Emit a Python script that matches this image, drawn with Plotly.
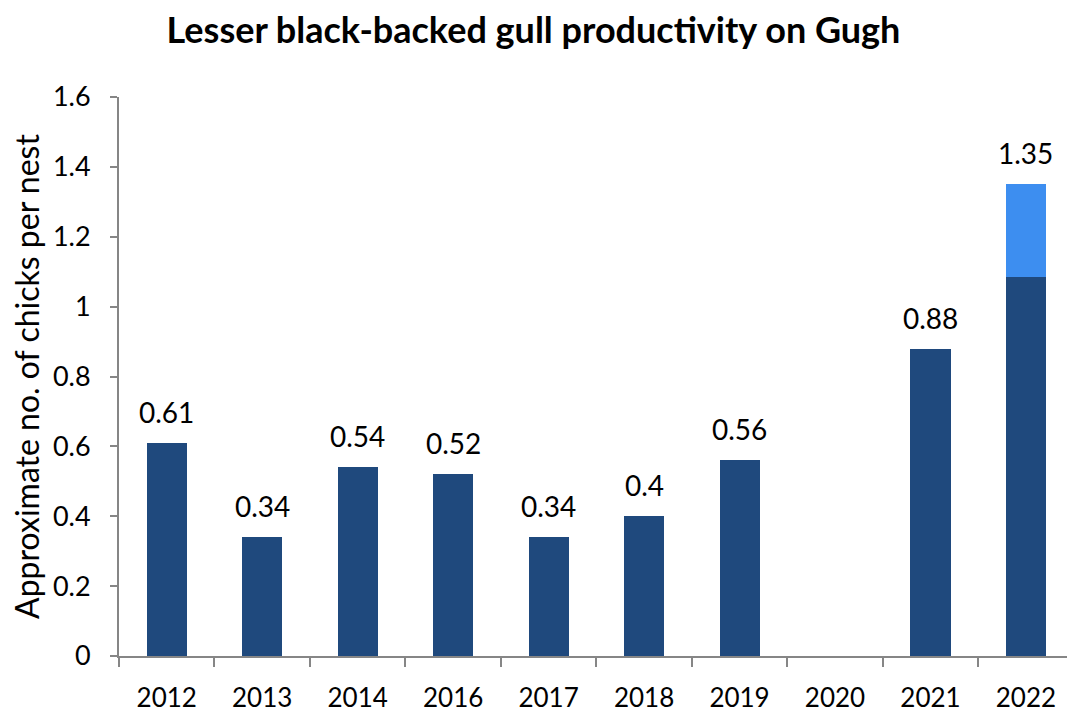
import plotly.graph_objects as go

years = ["2012", "2013", "2014", "2016", "2017", "2018", "2019", "2020", "2021", "2022"]
base_values = [0.61, 0.34, 0.54, 0.52, 0.34, 0.40, 0.56, None, 0.88, 1.085]
extra_values = [None, None, None, None, None, None, None, None, None, 0.265]
label_values = [0.61, 0.34, 0.54, 0.52, 0.34, 0.4, 0.56, None, 0.88, 1.35]
label_texts = ["0.61", "0.34", "0.54", "0.52", "0.34", "0.4", "0.56", None, "0.88", "1.35"]
y_ticks = [0, 0.2, 0.4, 0.6, 0.8, 1, 1.2, 1.4, 1.6]
y_tick_text = ["0", "0.2", "0.4", "0.6", "0.8", "1", "1.2", "1.4", "1.6"]

FONT = "Lato, Calibri, Open Sans, sans-serif"
DARK = "#1F497D"
LIGHT = "#3D8EF0"
AXIS = "#868686"

fig = go.Figure()
fig.add_trace(go.Bar(x=years, y=base_values, marker=dict(color=DARK, line=dict(width=0)),
                     hoverinfo="x+y"))
fig.add_trace(go.Bar(x=years, y=extra_values, marker=dict(color=LIGHT, line=dict(width=0)),
                     hoverinfo="x+y"))

for i, (v, t) in enumerate(zip(label_values, label_texts)):
    if v is None:
        continue
    fig.add_annotation(x=i, y=v, xref="x", yref="y", text=t, showarrow=False,
                       yanchor="bottom", yshift=12,
                       font=dict(family=FONT, size=28, color="#000000"))

fig.update_layout(
    barmode="stack",
    bargap=0.58,
    showlegend=False,
    width=1067, height=715,
    margin=dict(l=119, r=0, t=97, b=59),
    paper_bgcolor="white", plot_bgcolor="white",
    font=dict(family=FONT, size=26, color="#000000"),
    title=dict(text="<b>Lesser black-backed gull productivity on Gugh</b>",
               x=0.5, xanchor="center", y=1 - 30 / 715, yanchor="middle",
               font=dict(family=FONT, size=36, color="#000000")),
)
fig.update_xaxes(
    type="category", range=[-0.5, 9.43],
    showline=True, linecolor=AXIS, linewidth=2,
    ticks="outside", tickson="boundaries", ticklen=9, tickcolor=AXIS, tickwidth=2,
    ticklabelstandoff=18,
    showgrid=False, zeroline=False,
    tickfont=dict(family=FONT, size=26, color="#000000"),
)
fig.update_yaxes(
    range=[0, 1.6], tickvals=y_ticks, ticktext=y_tick_text,
    showline=True, linecolor=AXIS, linewidth=2,
    ticks="outside", ticklen=7, tickcolor=AXIS, tickwidth=2,
    ticklabelstandoff=14,
    showgrid=False, zeroline=False,
    tickfont=dict(family=FONT, size=27, color="#000000"),
    title=dict(text="Approximate no. of chicks per nest", standoff=4,
               font=dict(family=FONT, size=32, color="#000000")),
)

fig.write_html("out.html", config={"displayModeBar": False},
               post_script="document.body.style.margin='0';document.body.style.overflow='hidden';")
